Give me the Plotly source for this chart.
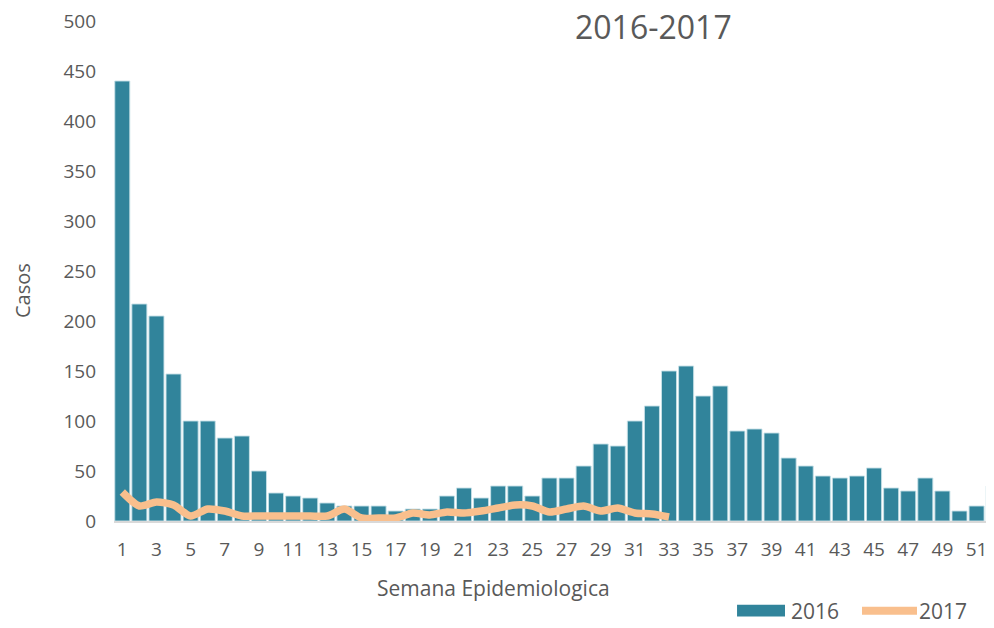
import plotly.graph_objects as go

weeks_2016 = list(range(1, 53))
cases_2016 = [440, 217, 205, 147, 100, 100, 83, 85, 50, 28,
              25, 23, 18, 15, 15, 15, 10, 12, 12, 25,
              33, 23, 35, 35, 25, 43, 43, 55, 77, 75,
              100, 115, 150, 155, 125, 135, 90, 92, 88, 63,
              55, 45, 43, 45, 53, 33, 30, 43, 30, 10,
              15, 35]

weeks_2017 = list(range(1, 34))
cases_2017 = [29, 15, 19, 16, 5, 12, 10, 5, 5, 5,
              5, 5, 5, 12, 3, 3, 3, 8, 6, 9,
              8, 10, 13, 16, 15, 9, 12, 15, 10, 13,
              8, 7, 4]

x_tick_vals = list(range(1, 53, 2))
y_tick_vals = list(range(0, 501, 50))

BAR_COLOR = "#31849B"
LINE_COLOR = "#F9BF8D"
TEXT_COLOR = "#595959"
FONT = "Open Sans"

fig = go.Figure()
fig.add_trace(go.Bar(
    x=weeks_2016, y=cases_2016, name="2016",
    marker=dict(color=BAR_COLOR, line=dict(color="rgba(200,225,232,0.9)", width=1)),
    showlegend=False,
))
fig.add_trace(go.Scatter(
    x=weeks_2017, y=cases_2017, name="2017", mode="lines",
    line=dict(color=LINE_COLOR, width=7.5, shape="spline", smoothing=0.7),
    showlegend=False,
))

fig.update_layout(
    width=986, height=612,
    margin=dict(l=106, r=0, t=11, b=99),
    paper_bgcolor="white", plot_bgcolor="white",
    font=dict(family=FONT, color=TEXT_COLOR, size=19),
    bargap=0.12,
    xaxis=dict(
        range=[0.515, 52.02], tickmode="array", tickvals=x_tick_vals,
        showgrid=False, zeroline=False,
        showline=True, linecolor="#D9D9D9", linewidth=2,
        ticks="", ticklabelstandoff=10,
        tickfont=dict(size=19, color=TEXT_COLOR, family=FONT),
    ),
    yaxis=dict(
        range=[0, 500], tickmode="array", tickvals=y_tick_vals,
        showgrid=False, zeroline=False, showline=False,
        ticks="", ticklabelstandoff=17, ticklabeloverflow="allow",
        tickfont=dict(size=19, color=TEXT_COLOR, family=FONT),
    ),
    annotations=[
        dict(text="2016-2017", xref="paper", yref="paper", x=0.6136, y=0.99,
             showarrow=False, xanchor="center", yanchor="middle",
             font=dict(size=32, color=TEXT_COLOR, family=FONT)),
        dict(text="Semana Epidemiologica", xref="paper", yref="paper", x=0.4307, y=-0.1335,
             showarrow=False, xanchor="center", yanchor="middle",
             font=dict(size=21, color=TEXT_COLOR, family=FONT)),
        dict(text="Casos", xref="paper", yref="paper", x=-0.1045, y=0.46,
             showarrow=False, xanchor="center", yanchor="middle", textangle=-90,
             font=dict(size=20, color=TEXT_COLOR, family=FONT)),
        dict(text="2016", xref="paper", yref="paper", x=0.767, y=-0.1793,
             showarrow=False, xanchor="left", yanchor="middle",
             font=dict(size=21, color=TEXT_COLOR, family=FONT)),
        dict(text="2017", xref="paper", yref="paper", x=0.9126, y=-0.1793,
             showarrow=False, xanchor="left", yanchor="middle",
             font=dict(size=21, color=TEXT_COLOR, family=FONT)),
    ],
    shapes=[
        dict(type="rect", xref="paper", yref="paper", x0=0.708, x1=0.7625,
             y0=-0.1912, y1=-0.1673, fillcolor=BAR_COLOR, line=dict(width=0)),
        dict(type="line", xref="paper", yref="paper", x0=0.85, x1=0.9125,
             y0=-0.1793, y1=-0.1793, line=dict(color=LINE_COLOR, width=8)),
    ],
)

fig.write_html("out.html")
